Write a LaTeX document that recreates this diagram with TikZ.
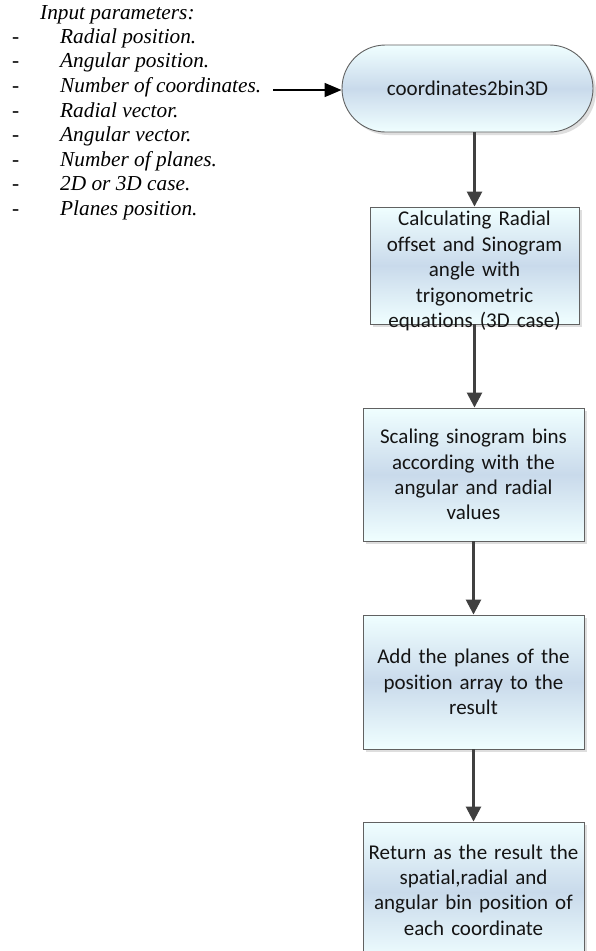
\documentclass[tikz,border=0pt]{standalone}
\usepackage{fontspec}
\setmainfont{Liberation Serif}
\newfontfamily\calibrifont[Ligatures={NoCommon}, WordSpace=0.8]{Carlito}
\usetikzlibrary{arrows.meta,shadows}
\begin{document}
\begin{tikzpicture}[x=1pt,y=-1pt,
  flowfill/.style={draw=black!62, line width=0.9pt,
    top color=blue!4!cyan!6!white, bottom color=blue!4!cyan!6!white,
    middle color={rgb,255:red,201;green,218;blue,235},
    drop shadow={shadow xshift=3pt, shadow yshift=-3pt, fill=black!13, opacity=1}},
  stepbox/.style={flowfill, rectangle, inner sep=0pt},
  steptext/.style={font=\calibrifont\fontsize{21}{25.4}\selectfont, align=center, text=black!92, inner sep=0pt},
  flowarrow/.style={draw=black!75, line width=2.6pt, -{Triangle[length=15pt,width=15pt]}},
  listtext/.style={font=\fontsize{21.3}{24}\selectfont\itshape, anchor=mid west, inner sep=0pt},
  dashtext/.style={font=\fontsize{21.3}{24}\selectfont, anchor=mid west, inner sep=0pt}
]
\fill[white] (0,0) rectangle (595,951);
\useasboundingbox (0,0) rectangle (595,951);

% input parameter list
\node[listtext] (hdr) at (40,17) {Input parameters:};
\foreach \txt [count=\i] in {Radial position., Angular position., Number of coordinates., Radial vector., Angular vector., Number of planes., 2D or 3D case., Planes position.}{
  \node[dashtext] (d\i) at (12,{41+24.6*(\i-1)}) {-};
  \node[listtext] (p\i) at (60,{41+24.6*(\i-1)}) {\txt};
}

% terminator
\node[flowfill, rectangle, rounded corners=43.5pt, minimum width=251pt, minimum height=87pt, inner sep=0pt] (term) at (467.5,88.5) {};
\node[steptext] (termtext) at (term.center) {coordinates2bin3D};

% process steps
\node[stepbox, minimum width=209pt, minimum height=117pt] (box1) at (474.5,265.5) {};
\node[steptext, text width=205pt] (t1) at (474.5,271) {Calculating Radial\\offset and Sinogram\\angle with\\trigonometric\\equations (3D case)};

\node[stepbox, minimum width=221pt, minimum height=133pt] (box2) at (473.5,474.5) {};
\node[steptext, text width=215pt] (t2) at (box2.center) {Scaling sinogram bins\\according with the\\angular and radial\\values};

\node[stepbox, minimum width=221pt, minimum height=134pt] (box3) at (473.5,682) {};
\node[steptext, text width=215pt] (t3) at (box3.center) {Add the planes of the\\position array to the\\result};

\node[stepbox, minimum width=221pt, minimum height=140pt] (box4) at (473.5,892) {};
\node[steptext, text width=215pt] (t4) at (473.5,890) {Return as the result the\\spatial,radial and\\angular bin position of\\each coordinate};

% connectors
\draw[black, line width=1.6pt, -{Triangle[length=17pt,width=14pt]}] (273,90) coordinate (inarrow) -- (inarrow -| term.west);
\draw[flowarrow] (term.south -| box1.north) -- (box1.north);
\draw[flowarrow] (box1.south) -- (box1.south |- box2.north);
\draw[flowarrow] (box2.south) -- (box3.north);
\draw[flowarrow] (box3.south) -- (box4.north);
\end{tikzpicture}
\end{document}
